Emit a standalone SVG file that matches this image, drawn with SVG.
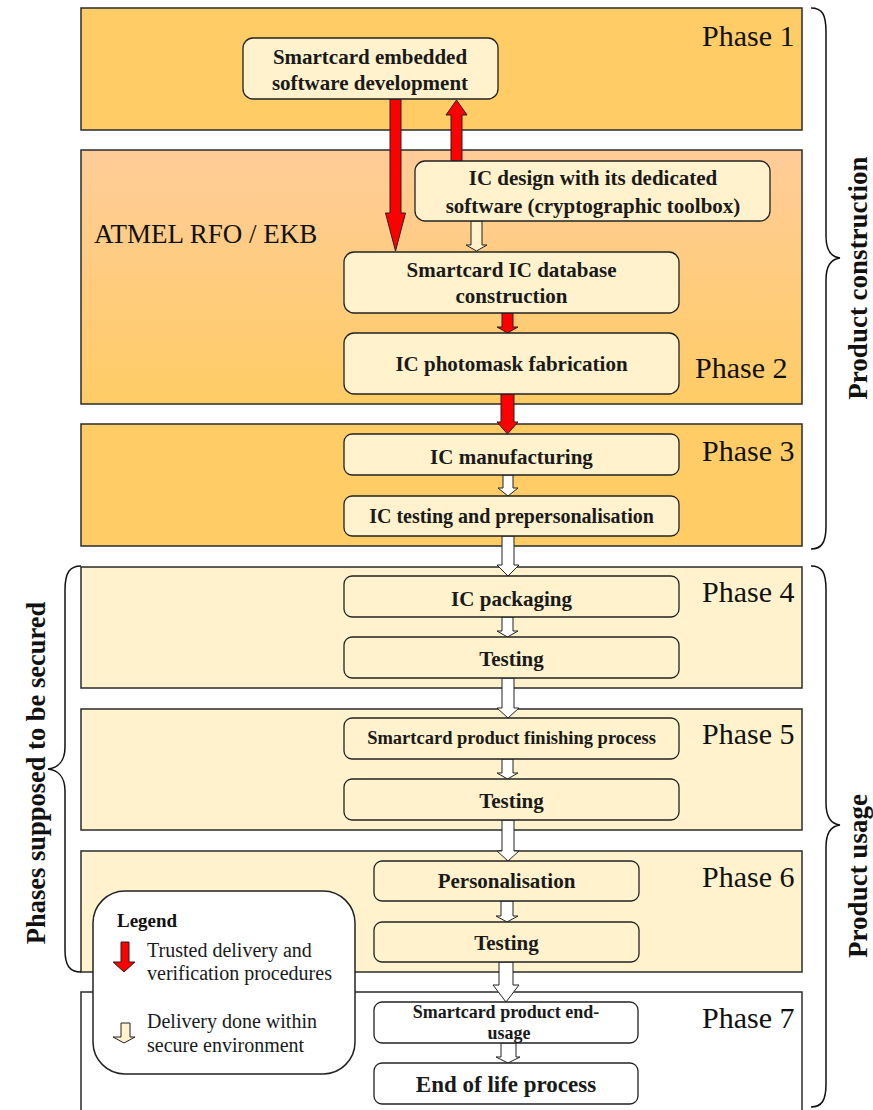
<svg xmlns="http://www.w3.org/2000/svg" width="873" height="1110" viewBox="0 0 873 1110">
<defs>
<linearGradient id="g2" x1="0" y1="0" x2="0" y2="1">
<stop offset="0" stop-color="#FFCC99"/>
<stop offset="1" stop-color="#FFCC66"/>
</linearGradient>
<style>
.ph{stroke:#2b2b2b;stroke-width:1.5}
.or{fill:#FFCC66}
.cr{fill:#FFF2CC}
.wh{fill:#FFFFFF}
.nd{fill:#FFF2CC;stroke:#222;stroke-width:1.3}
.nw{fill:#FFFFFF;stroke:#222;stroke-width:1.3}
.pt{font-family:"Liberation Serif","Times New Roman",serif;font-size:30px;fill:#111}
.nt{font-family:"Liberation Serif","Times New Roman",serif;font-size:21px;font-weight:bold;fill:#1a1a1a;text-anchor:middle}
.ra{fill:#FF0000;stroke:#222;stroke-width:1}
.ca{fill:#FFFFFF;stroke:#222;stroke-width:1}
.cl{fill:#FFF2CC;stroke:#222;stroke-width:1}
.br{fill:none;stroke:#111;stroke-width:1.5}
.bt{font-family:"Liberation Serif","Times New Roman",serif;font-size:27px;font-weight:bold;fill:#111;text-anchor:middle}
.lt{font-family:"Liberation Serif","Times New Roman",serif;font-size:20px;fill:#1a1a1a}
</style>
</defs>
<rect width="873" height="1110" fill="#FFFFFF"/>

<g id="phase1"><rect class="ph or" x="81" y="8" width="721" height="122"/><text class="pt" x="702" y="46">Phase 1</text></g>
<g id="phase2"><rect class="ph" fill="url(#g2)" x="81" y="150" width="721" height="254"/><text class="pt" x="695" y="378">Phase 2</text>
<text x="94" y="243" font-family="Liberation Serif, Times New Roman, serif" font-size="27" fill="#111">ATMEL RFO / EKB</text></g>
<g id="phase3"><rect class="ph or" x="81" y="424" width="721" height="122"/><text class="pt" x="702" y="461">Phase 3</text></g>
<g id="phase4"><rect class="ph cr" x="81" y="567" width="721" height="121"/><text class="pt" x="702" y="602">Phase 4</text></g>
<g id="phase5"><rect class="ph cr" x="81" y="709" width="721" height="121"/><text class="pt" x="702" y="744">Phase 5</text></g>
<g id="phase6"><rect class="ph cr" x="81" y="851" width="721" height="121"/><text class="pt" x="702" y="887">Phase 6</text></g>
<g id="phase7"><rect class="ph wh" x="81" y="992" width="721" height="130"/><text class="pt" x="702" y="1028">Phase 7</text></g>

<g id="connectors">
<polygon class="ra" points="390,99 401,99 401,213 405.5,213 395.5,251 385.5,213 390,213"/>
<polygon class="ra" points="451,161 451,115 446,115 456.5,100 467,115 462,115 462,161"/>
<polygon class="cl" points="471,221 482,221 482,245 487,245 476.5,251 466,245 471,245"/>
<polygon class="ra" points="502,313 513,313 513,327 518,327 507.5,333 497,327 502,327"/>
<polygon class="ra" points="501,394 514,394 514,422 518,422 507.5,434 497,422 501,422"/>
<polygon class="ca" points="503,475 513,475 513,488 518,488 508,496 498,488 503,488"/>
<polygon class="ca" points="502,536 514,536 514,565 519,565 508,576 497,565 502,565"/>
<polygon class="ca" points="502,617 513,617 513,631 518,631 507.5,637 497,631 502,631"/>
<polygon class="ca" points="502,678 514,678 514,708 519,708 508,718 497,708 502,708"/>
<polygon class="ca" points="502,759 513,759 513,773 518,773 507.5,779 497,773 502,773"/>
<polygon class="ca" points="502,820 514,820 514,851 519,851 508,861 497,851 502,851"/>
<polygon class="ca" points="501,901 513,901 513,916 518,916 507,922 496,916 501,916"/>
<polygon class="ca" points="499,962 513,962 513,985 519,985 506,1002 493,985 499,985"/>
<polygon class="ca" points="501,1043 516,1043 516,1057 520,1057 508,1063 496,1057 501,1057"/>
</g>

<g id="n1"><rect class="nd" x="243" y="38" width="255" height="61" rx="10"/><text class="nt" x="370" y="64">Smartcard embedded</text><text class="nt" x="370" y="90">software development</text></g>
<g id="n2"><rect class="nd" x="415" y="161" width="355" height="60" rx="10"/><text class="nt" x="593" y="185">IC design with its dedicated</text><text class="nt" x="593" y="213">software (cryptographic toolbox)</text></g>
<g id="n3"><rect class="nd" x="344" y="252" width="335" height="61" rx="10"/><text class="nt" x="511.5" y="277">Smartcard IC database</text><text class="nt" x="511.5" y="303">construction</text></g>
<g id="n4"><rect class="nd" x="344" y="333" width="335" height="61" rx="10"/><text class="nt" x="511.5" y="371">IC photomask fabrication</text></g>
<g id="n5"><rect class="nd" x="344" y="434" width="335" height="41" rx="8"/><text class="nt" x="511.5" y="464">IC manufacturing</text></g>
<g id="n6"><rect class="nd" x="344" y="496" width="335" height="40" rx="8"/><text class="nt" x="511.5" y="523" style="font-size:20px">IC testing and prepersonalisation</text></g>
<g id="n7"><rect class="nd" x="344" y="576" width="335" height="41" rx="8"/><text class="nt" x="511.5" y="606">IC packaging</text></g>
<g id="n8"><rect class="nd" x="344" y="637" width="335" height="41" rx="8"/><text class="nt" x="511.5" y="666">Testing</text></g>
<g id="n9"><rect class="nd" x="344" y="718" width="335" height="41" rx="8"/><text class="nt" x="511.5" y="744" style="font-size:18.5px">Smartcard product finishing process</text></g>
<g id="n10"><rect class="nd" x="344" y="779" width="335" height="41" rx="8"/><text class="nt" x="511.5" y="808">Testing</text></g>
<g id="n11"><rect class="nd" x="374" y="861" width="265" height="40" rx="8"/><text class="nt" x="506.5" y="888">Personalisation</text></g>
<g id="n12"><rect class="nd" x="374" y="922" width="265" height="40" rx="8"/><text class="nt" x="506.5" y="950">Testing</text></g>
<g id="n13"><rect class="nw" x="374" y="1002" width="264" height="41" rx="8"/><text class="nt" x="506" y="1018" style="font-size:18px">Smartcard product end-</text><text class="nt" x="509" y="1039" style="font-size:18px">usage</text></g>
<g id="n14"><rect class="nw" x="374" y="1063" width="264" height="41" rx="8"/><text class="nt" x="506" y="1092" style="font-size:23px">End of life process</text></g>

<g id="brace-construction"><path class="br" d="M811,8 C822,8 826,14 826,32 L826,236 C826,250 831,257 840,258 C831,259 826,266 826,280 L826,526 C826,542 822,549 811,549"/>
<text class="bt" transform="translate(867,278) rotate(-90)">Product construction</text></g>
<g id="brace-usage"><path class="br" d="M811,566 C822,566 826,572 826,590 L826,803 C826,817 831,824 840,825 C831,826 826,833 826,847 L826,1084 C826,1100 822,1107 811,1107"/>
<text class="bt" transform="translate(867,876) rotate(-90)">Product usage</text></g>
<g id="brace-secured"><path class="br" d="M81,566 C70,566 65,572 65,590 L65,747 C65,761 58,768 48,769 C58,770 65,777 65,791 L65,950 C65,966 70,972 81,972"/>
<text class="bt" transform="translate(45,773) rotate(-90)" style="font-size:26.5px">Phases supposed to be secured</text></g>

<g id="legend"><rect x="93" y="891" width="262" height="183" rx="32" fill="#FFFFFF" stroke="#222" stroke-width="1.5"/>
<text x="117" y="927" font-family="Liberation Serif, Times New Roman, serif" font-size="19" font-weight="bold" fill="#111">Legend</text>
<polygon class="ra" points="121,942 129,942 129,962 135,962 124,972 113,962 121,962"/>
<text class="lt" x="147" y="957">Trusted delivery and</text>
<text class="lt" x="147" y="980">verification procedures</text>
<polygon class="cl" points="121,1023 130,1023 130,1037 135,1037 124,1043 113,1037 121,1037"/>
<text class="lt" x="147" y="1028">Delivery done within</text>
<text class="lt" x="147" y="1052">secure environment</text></g>
</svg>
